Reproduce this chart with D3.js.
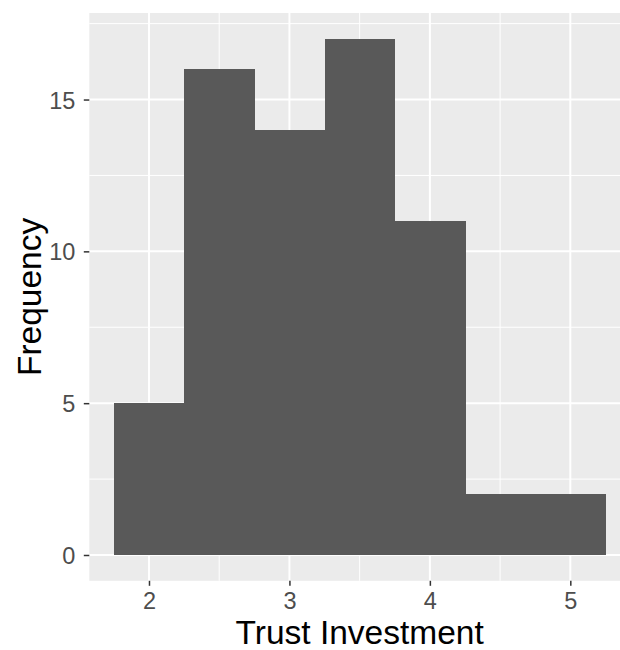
<!DOCTYPE html>
<html>
<head>
<meta charset="utf-8">
<script src="https://cdn.jsdelivr.net/npm/d3@7"></script>
<style>
  html, body { margin: 0; padding: 0; background: #fff; overflow: hidden; }
  svg { display: block; }
  text { font-family: "Liberation Sans", Arial, Helvetica, sans-serif; }
</style>
</head>
<body>
<div id="chart"></div>
<script>
// Data: histogram bins (width 0.5) and counts
const binStarts = [1.75, 2.25, 2.75, 3.25, 3.75, 4.25, 4.75];
const binWidth = 0.5;
const counts = [5, 16, 14, 17, 11, 2, 2];
const xTicks = [2, 3, 4, 5];
const xMinor = [2.5, 3.5, 4.5];
const yTicks = [0, 5, 10, 15];
const yMinor = [2.5, 7.5, 12.5, 17.5];
const xTitle = "Trust Investment";
const yTitle = "Frequency";

(function () {
const W = 620, H = 650;
const svg = d3.select("#chart").append("svg").attr("width", W).attr("height", H);

const xMinD = d3.min(binStarts), xMaxD = d3.max(binStarts) + binWidth;
const xPad = (xMaxD - xMinD) * 0.05;
const yMaxD = d3.max(counts);
const yPad = yMaxD * 0.05;

const pL = 89.3, pR = 630, pT = 13, pB = 580.8;
const x = d3.scaleLinear().domain([xMinD - xPad, xMaxD + xPad]).range([pL, pR]);
const y = d3.scaleLinear().domain([-yPad, yMaxD + yPad]).range([pB, pT]);

// panel
svg.append("rect").attr("x", pL).attr("y", pT)
  .attr("width", pR - pL).attr("height", pB - pT).attr("fill", "#EBEBEB");

const grid = svg.append("g");
grid.selectAll(".xminor").data(xMinor).join("line")
  .attr("x1", d => x(d)).attr("x2", d => x(d)).attr("y1", pT).attr("y2", pB)
  .attr("stroke", "#fff").attr("stroke-width", 1);
grid.selectAll(".yminor").data(yMinor).join("line")
  .attr("y1", d => y(d)).attr("y2", d => y(d)).attr("x1", pL).attr("x2", pR)
  .attr("stroke", "#fff").attr("stroke-width", 1);
grid.selectAll(".xmajor").data(xTicks).join("line")
  .attr("x1", d => x(d)).attr("x2", d => x(d)).attr("y1", pT).attr("y2", pB)
  .attr("stroke", "#fff").attr("stroke-width", 2);
grid.selectAll(".ymajor").data(yTicks).join("line")
  .attr("y1", d => y(d)).attr("y2", d => y(d)).attr("x1", pL).attr("x2", pR)
  .attr("stroke", "#fff").attr("stroke-width", 2);

// bars
svg.append("g").attr("shape-rendering", "crispEdges")
  .selectAll("rect").data(binStarts).join("rect")
  .attr("x", d => x(d))
  .attr("width", d => x(d + binWidth) - x(d) + 0.6)
  .attr("y", (d, i) => y(counts[i]))
  .attr("height", (d, i) => y(0) - y(counts[i]))
  .attr("fill", "#595959");

// axes
const xAxis = svg.append("g").attr("transform", `translate(0,${pB})`)
  .call(d3.axisBottom(x).tickValues(xTicks).tickSize(5).tickPadding(6.5).tickFormat(d3.format("d")));
const yAxis = svg.append("g").attr("transform", `translate(${pL},0)`)
  .call(d3.axisLeft(y).tickValues(yTicks).tickSize(5.5).tickPadding(8.5).tickFormat(d3.format("d")));
[xAxis, yAxis].forEach(a => {
  a.select(".domain").remove();
  a.selectAll(".tick line").attr("stroke", "#333333").attr("stroke-width", 1.5);
  a.selectAll(".tick text").attr("fill", "#4D4D4D").style("font-size", "23.5px")
    .style("font-family", '"Liberation Sans", Arial, sans-serif');
});
xAxis.selectAll(".tick text").attr("dy", "0.71em");
yAxis.selectAll(".tick text").attr("dy", "0.36em");

// titles
svg.append("text").attr("x", (pL + pR) / 2).attr("y", 644)
  .attr("text-anchor", "middle").attr("fill", "#000").style("font-size", "33.5px").text(xTitle);
svg.append("text").attr("transform", `translate(41,${(pT + pB) / 2}) rotate(-90)`)
  .attr("text-anchor", "middle").attr("fill", "#000").style("font-size", "33.5px").text(yTitle);
})();
</script>
</body>
</html>
